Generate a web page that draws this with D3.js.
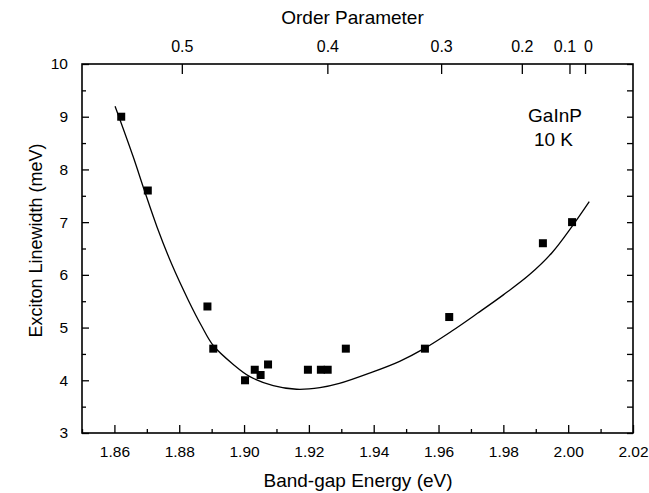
<!DOCTYPE html>
<html>
<head>
<meta charset="utf-8">
<script src="https://cdn.jsdelivr.net/npm/d3@7"></script>
<style>
  body { margin: 0; background: #fff; }
  svg { display: block; font-family: "Liberation Sans", Arial, sans-serif; }
</style>
</head>
<body>
<div id="chart"></div>
<script>
// Exciton linewidth vs band-gap energy, GaInP at 10 K

// measured points
const energy    = [1.8621, 1.8703, 1.8887, 1.8905, 1.9003, 1.9033, 1.9051, 1.9074, 1.9197, 1.9237, 1.9258, 1.9314, 1.9558, 1.9633, 1.9922, 2.0012];
const linewidth = [9.0, 7.6, 5.4, 4.6, 4.0, 4.2, 4.1, 4.3, 4.2, 4.2, 4.2, 4.6, 4.6, 5.2, 6.6, 7.0];

// fitted curve
const fitEnergy = [1.8602, 1.8658, 1.8692, 1.8732, 1.8777, 1.8828, 1.8869, 1.8905, 1.8967, 1.9018, 1.9090, 1.9162,
                   1.9234, 1.9294, 1.9389, 1.9480, 1.9558, 1.9640, 1.9720, 1.9800, 1.9880, 1.9950, 2.0012, 2.0065];
const fitWidth  = [9.20, 8.24, 7.61, 6.90, 6.20, 5.52, 5.03, 4.66, 4.30, 4.07, 3.90, 3.83,
                   3.86, 3.94, 4.14, 4.36, 4.61, 4.93, 5.27, 5.62, 6.00, 6.42, 6.92, 7.39];

// axes
const xTicks = [1.86, 1.88, 1.90, 1.92, 1.94, 1.96, 1.98, 2.00, 2.02];
const xMinor = [1.85, 1.87, 1.89, 1.91, 1.93, 1.95, 1.97, 1.99, 2.01];
const yTicks = [3, 4, 5, 6, 7, 8, 9, 10];
const yMinor = [3.5, 4.5, 5.5, 6.5, 7.5, 8.5, 9.5];

// top axis: order parameter and the band-gap energy it sits at
const orderTicks  = ['0.5', '0.4', '0.3', '0.2', '0.1', '0'];
const orderEnergy = [1.8808, 1.9257, 1.9608, 1.9857, 2.0004, 2.0052];

const width = 649, height = 493;
const mLeft = 82, mRight = 633, mTop = 64, mBottom = 433;

const svg = d3.select('#chart').append('svg')
  .attr('width', width)
  .attr('height', height);

const x = d3.scaleLinear().domain([1.85, 2.02]).range([mLeft, mRight]);
const y = d3.scaleLinear().domain([3, 10]).range([mBottom, mTop]);

const tickFont = '15.5px';

// bottom axis
const gx = svg.append('g').attr('transform', `translate(0,${mBottom})`)
  .call(d3.axisBottom(x).tickValues(xTicks).tickFormat(d3.format('.2f'))
    .tickSizeInner(-8).tickSizeOuter(0).tickPadding(13));
gx.call(g => g.select('.domain').remove());
gx.selectAll('text').attr('font-size', tickFont).attr('fill', '#000');
gx.selectAll('line').attr('stroke', '#000').attr('stroke-width', 1.3);

svg.append('g').attr('transform', `translate(0,${mBottom})`)
  .call(d3.axisBottom(x).tickValues(xMinor).tickFormat('').tickSizeInner(-4).tickSizeOuter(0))
  .call(g => g.select('.domain').remove())
  .selectAll('line').attr('stroke', '#000').attr('stroke-width', 1.3);

// left axis
const gy = svg.append('g').attr('transform', `translate(${mLeft},0)`)
  .call(d3.axisLeft(y).tickValues(yTicks).tickFormat(d3.format('d'))
    .tickSizeInner(-7).tickSizeOuter(0).tickPadding(14));
gy.call(g => g.select('.domain').remove());
gy.selectAll('text').attr('font-size', tickFont).attr('fill', '#000');
gy.selectAll('line').attr('stroke', '#000').attr('stroke-width', 1.3);

svg.append('g').attr('transform', `translate(${mLeft},0)`)
  .call(d3.axisLeft(y).tickValues(yMinor).tickFormat('').tickSizeInner(-4).tickSizeOuter(0))
  .call(g => g.select('.domain').remove())
  .selectAll('line').attr('stroke', '#000').attr('stroke-width', 1.3);

// right axis, ticks only
svg.append('g').attr('transform', `translate(${mRight},0)`)
  .call(d3.axisRight(y).tickValues(yTicks.concat(yMinor)).tickFormat('').tickSizeInner(-6).tickSizeOuter(0))
  .call(g => g.select('.domain').remove())
  .selectAll('line').attr('stroke', '#000').attr('stroke-width', 1.3);

// top axis: order parameter
const gt = svg.append('g').attr('transform', `translate(0,${mTop})`)
  .call(d3.axisTop(x).tickValues(orderEnergy)
    .tickFormat((d, i) => orderTicks[i])
    .tickSizeInner(-10).tickSizeOuter(0).tickPadding(12));
gt.call(g => g.select('.domain').remove());
gt.selectAll('text').attr('font-size', '16px').attr('fill', '#000')
  // the last two ticks are close, nudge their labels apart like the original
  .attr('dx', (d, i) => i === 4 ? -5 : i === 5 ? 3 : 0);
gt.selectAll('line').attr('stroke', '#000').attr('stroke-width', 1.3);

// frame
svg.append('rect')
  .attr('x', mLeft).attr('y', mTop)
  .attr('width', mRight - mLeft).attr('height', mBottom - mTop)
  .attr('fill', 'none').attr('stroke', '#000').attr('stroke-width', 1.6);

// fitted curve
const fit = fitEnergy.map((e, i) => [e, fitWidth[i]]);
svg.append('path')
  .datum(fit)
  .attr('fill', 'none')
  .attr('stroke', '#000')
  .attr('stroke-width', 1.3)
  .attr('d', d3.line().x(d => x(d[0])).y(d => y(d[1])).curve(d3.curveCatmullRom.alpha(0.5)));

// data points
const size = 8;
svg.selectAll('.pt')
  .data(energy.map((e, i) => [e, linewidth[i]]))
  .enter().append('rect')
  .attr('class', 'pt')
  .attr('x', d => x(d[0]) - size / 2)
  .attr('y', d => y(d[1]) - size / 2)
  .attr('width', size).attr('height', size)
  .attr('fill', '#000');

// titles
svg.append('text')
  .attr('x', 358).attr('y', 486.5)
  .attr('text-anchor', 'middle').attr('font-size', '19px')
  .text('Band-gap Energy (eV)');

svg.append('text')
  .attr('x', 352.5).attr('y', 23.5)
  .attr('text-anchor', 'middle').attr('font-size', '19px')
  .text('Order Parameter');

svg.append('text')
  .attr('transform', 'translate(42,240.5) rotate(-90)')
  .attr('text-anchor', 'middle').attr('font-size', '18px')
  .text('Exciton Linewidth (meV)');

// sample label
svg.append('text')
  .attr('x', 555).attr('y', 121.5)
  .attr('text-anchor', 'middle').attr('font-size', '19px')
  .text('GaInP');
svg.append('text')
  .attr('x', 553.5).attr('y', 146)
  .attr('text-anchor', 'middle').attr('font-size', '19px')
  .text('10 K');
</script>
</body>
</html>
